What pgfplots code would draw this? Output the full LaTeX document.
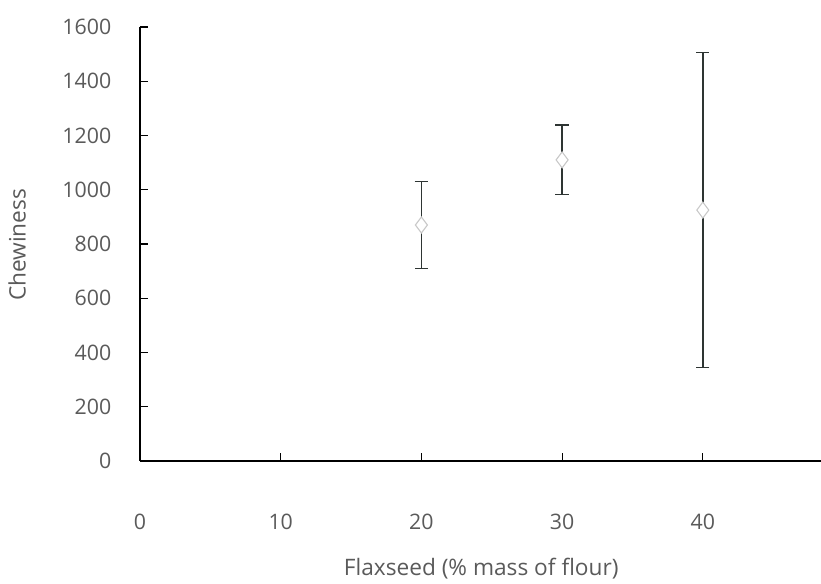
\documentclass[border=0pt]{standalone}
\usepackage{fontspec}
\setmainfont{Open Sans}
\usepackage{pgfplots}
\pgfplotsset{compat=1.18}
\definecolor{txt}{HTML}{5A5A5A}
\definecolor{bar}{HTML}{2E3533}
\definecolor{mk}{HTML}{C8C8C8}

\begin{document}
\begin{tikzpicture}
\path[use as bounding box] (-105pt,-92.25pt) rectangle (510.75pt,345.75pt);
\begin{axis}[
    scale only axis,
    width=510.75pt, height=325.5pt,
    xmin=0, xmax=48.4,
    ymin=0, ymax=1600,
    xtick={0,10,20,30,40},
    ytick={0,200,...,1600},
    axis x line*=bottom,
    axis y line*=left,
    axis line style={black, line width=1pt},
    tick style={black, line width=0.9pt},
    tick align=inside,
    major tick length=6pt,
    /pgf/number format/assume math mode=true,
    /pgf/number format/1000 sep={},
    tick label style={font=\fontsize{16}{18}\selectfont\color{txt}},
    yticklabel style={xshift=-18pt},
    xticklabel style={yshift=-36pt},
    xlabel={Flaxseed (\% mass of flour)},
    ylabel={Chewiness},
    label style={font=\fontsize{17}{20}\selectfont\color{txt}},
    xlabel style={at={(axis description cs:0.501,0)}, anchor=north, yshift=-69pt},
    ylabel style={at={(axis description cs:0,0.498)}, anchor=south, rotate=0, yshift=82pt},
    clip=false,
]
\addplot[
    only marks,
    mark=diamond*,
    mark size=6pt,
    mark options={fill=white, draw=mk, line width=0.8pt},
    error bars/.cd,
        y dir=both, y explicit,
        error bar style={bar, line width=1.1pt},
        error mark options={rotate=90, mark size=5pt, bar, line width=1.1pt},
] coordinates {
    (20, 870)  +- (0, 161)
    (30, 1110) +- (0, 128)
    (40, 925)  +- (0, 580)
};
\end{axis}
\end{tikzpicture}
\end{document}
